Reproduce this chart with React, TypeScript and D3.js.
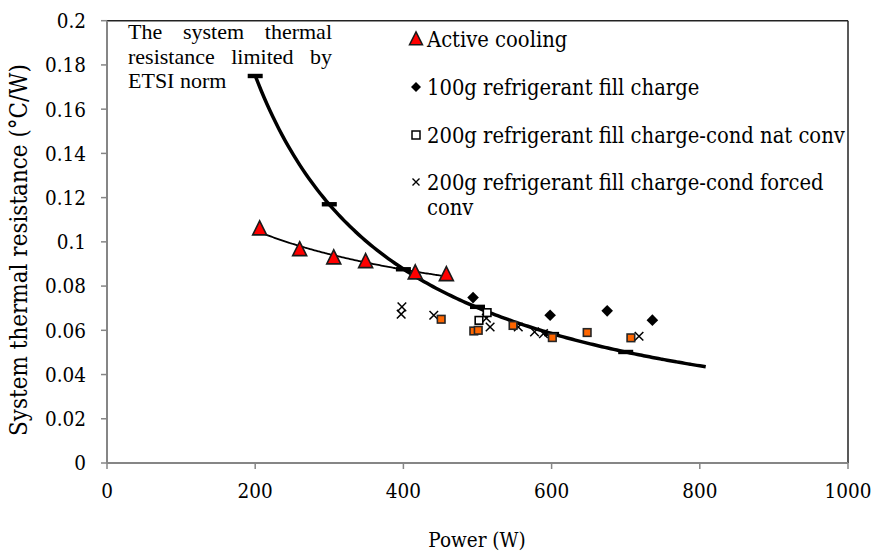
import React, { useEffect, useMemo } from 'react';
import * as d3 from 'd3';

// ---- Data ----
const activeX = [206, 260, 306, 349, 416, 458];
const activeY = [0.106, 0.0966, 0.0929, 0.0912, 0.0861, 0.0853];

const g100X = [494, 598, 675, 736];
const g100Y = [0.0748, 0.0668, 0.0688, 0.0646];

const natX = [513, 502];
const natY = [0.068, 0.0645];

const orangeX = [451, 495, 501, 548, 601, 648, 707];
const orangeY = [0.065, 0.0597, 0.06, 0.0622, 0.0567, 0.059, 0.0566];

const forcedX = [398, 397, 441, 512, 517, 555, 577, 589, 718];
const forcedY = [0.0706, 0.0673, 0.0668, 0.0655, 0.0615, 0.0615, 0.0593, 0.0585, 0.0573];

const etsiX = [200, 300, 400, 500, 600, 700];
const etsiY = [0.175, 0.117, 0.0876, 0.0706, 0.0583, 0.0502];
const etsiForecastEnd = 808;

const xTicks = [0, 200, 400, 600, 800, 1000];
const xTickLabels = ['0', '200', '400', '600', '800', '1000'];
const yTicks = [0, 0.02, 0.04, 0.06, 0.08, 0.1, 0.12, 0.14, 0.16, 0.18, 0.2];
const yTickLabels = ['0', '0.02', '0.04', '0.06', '0.08', '0.1', '0.12', '0.14', '0.16', '0.18', '0.2'];

const legendLabels = [
  ['Active cooling'],
  ['100g refrigerant fill charge'],
  ['200g refrigerant fill charge-cond nat conv'],
  ['200g refrigerant fill charge-cond forced', 'conv'],
];
const noteLines = ['The system thermal', 'resistance limited by', 'ETSI norm'];

const xTitle = 'Power (W)';
const yTitle = 'System thermal resistance (°C/W)';

// ---- Layout ----
const W = 875;
const H = 554;
const SERIF = "'Liberation Serif', 'Times New Roman', serif";
const CAMB = "'DejaVu Serif Condensed', 'DejaVu Serif', serif";
const x = d3.scaleLinear().domain([0, 1000]).range([107, 848]);
const y = d3.scaleLinear().domain([0, 0.2]).range([463, 20.7]);

function powerFit(xs: number[], ys: number[]) {
  const lx = xs.map(Math.log);
  const ly = ys.map(Math.log);
  const mx = d3.mean(lx)!;
  const my = d3.mean(ly)!;
  let num = 0, den = 0;
  lx.forEach((v, i) => { num += (v - mx) * (ly[i] - my); den += (v - mx) ** 2; });
  const b = num / den;
  const a = Math.exp(my - b * mx);
  return (v: number) => a * Math.pow(v, b);
}

let ctx: CanvasRenderingContext2D | null = null;
function measure(text: string, size: number, family: string) {
  if (!ctx) ctx = document.createElement('canvas').getContext('2d')!;
  ctx.font = `${size}px ${family}`;
  return ctx.measureText(text).width;
}
function fitSize(text: string, target: number, family: string) {
  const w = measure(text, 20, family);
  return w > 0 ? (20 * target) / w : 20;
}

export default function App() {
  useEffect(() => {
    document.body.style.margin = '0';
  }, []);

  const etsiFn = powerFit(etsiX, etsiY);
  const activeFn = powerFit(activeX, activeY);
  const line = d3.line<[number, number]>().x(d => x(d[0])).y(d => y(d[1])).curve(d3.curveMonotoneX);
  const etsiPts: [number, number][] = d3.range(etsiX[0], etsiForecastEnd + 0.1, 4).map(v => [v, etsiFn(v)]);
  const activePts: [number, number][] = d3.range(activeX[0], activeX[activeX.length - 1] + 0.1, 2).map(v => [v, activeFn(v)]);

  const tri = (s: number) => `M0,${-s * 0.55}L${s * 0.5},${s * 0.45}L${-s * 0.5},${s * 0.45}Z`;
  const dia = (s: number) => `M0,${-s}L${s},0L0,${s}L${-s},0Z`;
  const cross = (s: number) => `M${-s},${-s}L${s},${s}M${-s},${s}L${s},${-s}`;

  const sizes = useMemo(() => ({
    legend: fitSize(legendLabels[2][0], 418, CAMB),
    tick: fitSize('0.18', 41, CAMB),
    ytitle: fitSize(yTitle, 372, CAMB),
  }), []);

  // justified note text
  const noteSize = 22;
  const noteLeft = 128, noteRight = 332;
  const noteBase = [38.5, 64, 88];
  const noteWords = useMemo(() => noteLines.map((ln, li) => {
    const words = ln.split(' ');
    const widths = words.map(w => measure(w, noteSize, SERIF));
    if (li === noteLines.length - 1) {
      const sp = measure(' ', noteSize, SERIF);
      let cx = noteLeft;
      return words.map((w, i) => { const r = { w, x: cx }; cx += widths[i] + sp; return r; });
    }
    const total = d3.sum(widths);
    const gap = (noteRight - noteLeft - total) / (words.length - 1);
    let cx = noteLeft;
    return words.map((w, i) => { const r = { w, x: cx }; cx += widths[i] + gap; return r; });
  }), []);

  const legX = 416, legTextX = 427;
  const legCenter = [39, 87, 135, 182];
  const legWrap = 25;

  return (
    <svg width={W} height={H} style={{ display: 'block', background: '#fff' }} fontFamily={SERIF}>
      {/* frame */}
      <line x1={x(0)} x2={x(1000)} y1={y(0.2)} y2={y(0.2)} stroke="#222" strokeWidth={1.5} />
      <line x1={x(1000)} x2={x(1000)} y1={y(0.2)} y2={y(0)} stroke="#222" strokeWidth={1.5} />
      <line x1={x(0)} x2={x(0)} y1={y(0.2)} y2={y(0)} stroke="#868686" strokeWidth={2} />
      <line x1={x(0)} x2={x(1000)} y1={y(0)} y2={y(0)} stroke="#868686" strokeWidth={2} />
      {yTicks.map((t, i) => (
        <g key={'yt' + i}>
          <line x1={x(0) - 6} x2={x(0)} y1={y(t)} y2={y(t)} stroke="#868686" strokeWidth={1.5} />
          <text x={86} y={y(t)} dy="0.36em" textAnchor="end" fontSize={sizes.tick} fontFamily={CAMB} fill="#000">{yTickLabels[i]}</text>
        </g>
      ))}
      {xTicks.map((t, i) => (
        <g key={'xt' + i}>
          <line x1={x(t)} x2={x(t)} y1={y(0)} y2={y(0) + 6} stroke="#868686" strokeWidth={1.5} />
          <text x={x(t)} y={498} textAnchor="middle" fontSize={sizes.tick} fontFamily={CAMB} fill="#000">{xTickLabels[i]}</text>
        </g>
      ))}
      <text x={477} y={547} textAnchor="middle" fontSize={sizes.tick} fontFamily={CAMB}>{xTitle}</text>
      <text transform={`translate(27,250) rotate(-90)`} textAnchor="middle" fontSize={sizes.ytitle} fontFamily={CAMB}>{yTitle}</text>

      {/* note */}
      {noteWords.map((ln, li) => ln.map((wd, wi) => (
        <text key={`n${li}-${wi}`} x={wd.x} y={noteBase[li]} fontSize={noteSize}>{wd.w}</text>
      )))}

      {/* trend lines */}
      <path d={line(etsiPts)!} fill="none" stroke="#000" strokeWidth={3.5} />
      {etsiX.map((v, i) => (
        <rect key={'e' + i} x={x(v) - 7.5} y={y(etsiY[i]) - 2.2} width={15} height={4.4} fill="#000" />
      ))}
      <path d={line(activePts)!} fill="none" stroke="#000" strokeWidth={1.8} />

      {/* series */}
      {forcedX.map((v, i) => (
        <path key={'f' + i} d={cross(4.3)} transform={`translate(${x(v)},${y(forcedY[i])})`} stroke="#000" strokeWidth={1.5} fill="none" />
      ))}
      {natX.map((v, i) => (
        <rect key={'s' + i} x={x(v) - 3.8} y={y(natY[i]) - 3.8} width={7.6} height={7.6} fill="#fff" stroke="#000" strokeWidth={1.6} />
      ))}
      {orangeX.map((v, i) => (
        <rect key={'o' + i} x={x(v) - 3.8} y={y(orangeY[i]) - 3.8} width={7.6} height={7.6} fill="#FF6600" stroke="#262626" strokeWidth={1.6} />
      ))}
      {g100X.map((v, i) => (
        <path key={'d' + i} d={dia(5.8)} transform={`translate(${x(v)},${y(g100Y[i])})`} fill="#000" />
      ))}
      {activeX.map((v, i) => (
        <path key={'a' + i} d={tri(14)} transform={`translate(${x(v)},${y(activeY[i])})`} fill="#FF0000" stroke="#1a1a1a" strokeWidth={1.6} />
      ))}

      {/* legend */}
      <path d={tri(13)} transform={`translate(${legX},${legCenter[0]})`} fill="#FF0000" stroke="#1a1a1a" strokeWidth={1.5} />
      <path d={dia(5)} transform={`translate(${legX},${legCenter[1]})`} fill="#000" />
      <rect x={legX - 4} y={legCenter[2] - 4} width={8} height={8} fill="#fff" stroke="#000" strokeWidth={1.5} />
      <path d={cross(3.5)} transform={`translate(${legX},${legCenter[3]})`} stroke="#000" strokeWidth={1.4} fill="none" />
      {legendLabels.map((lbl, i) => (
        <text key={'l' + i} fontSize={sizes.legend} fontFamily={CAMB} fill="#000">
          {lbl.map((s, j) => (
            <tspan key={j} x={legTextX} y={legCenter[i] + j * legWrap} dy="0.36em">{s}</tspan>
          ))}
        </text>
      ))}
    </svg>
  );
}
